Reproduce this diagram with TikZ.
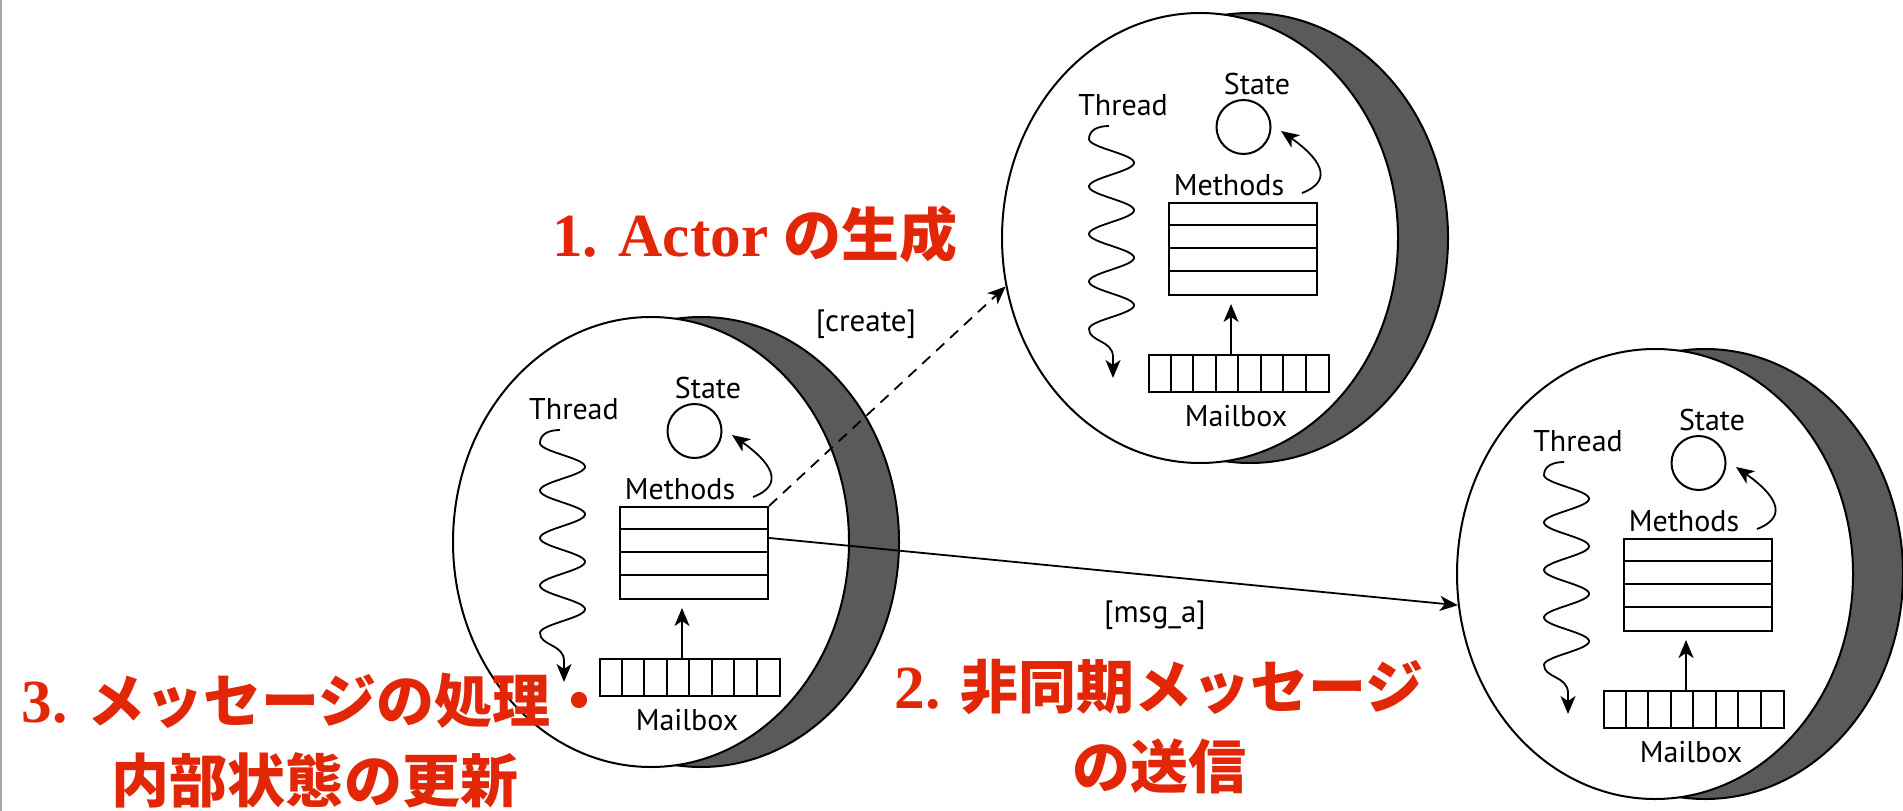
\documentclass[tikz,border=0pt]{standalone}
\usepackage{fontspec}
\setmainfont{Liberation Serif}
\newfontfamily\lblfont{PT Sans}
\newfontfamily\jpfont{Noto Sans CJK JP}
\usetikzlibrary{arrows.meta,calc,shapes.geometric}
\definecolor{jpred}{RGB}{226,38,8}
\definecolor{shade}{RGB}{90,90,90}
\tikzset{
  outl/.style={draw=black, line width=0.8pt},
  lbl/.style={inner sep=0pt, font=\lblfont\fontsize{12pt}{14.4pt}\selectfont},
  arr/.style={line width=0.72pt, -{Stealth[length=7.2pt,width=6pt,inset=2pt]}},
  redtxt/.style={inner sep=0pt, text=jpred, align=center, font=\fontsize{24.5pt}{32pt}\selectfont},
}
\newcommand\jp[1]{{\jpfont\bfseries\fontsize{23.2pt}{32pt}\selectfont #1}}
\newcommand\actorfig[3]{%
\begin{scope}[shift={(#2,#3)}]
  \node[outl, ellipse, fill=shade, minimum width=158.4pt, minimum height=180pt, inner sep=0pt] (#1-shade) at (82,36) {};
  \node[outl, ellipse, fill=white, minimum width=158.4pt, minimum height=180pt, inner sep=0pt] (#1-body) at (32,36) {};
  \node[outl, rectangle, minimum width=59.2pt, minimum height=36.8pt, inner sep=0pt, anchor=north west] (#1-m) at (0,0) {};
  \foreach \k in {1,2,3}
    \draw[line width=0.8pt] ($(#1-m.north west)+(0,\k*23)$) -- ($(#1-m.north east)+(0,\k*23)$);
  \node[lbl] (#1-mt) at (61,-17) {Methods};
  \node[outl, circle, minimum size=21.6pt, inner sep=0pt] (#1-s) at (75.5,-75) {};
  \node[lbl] (#1-st) at (89,-118) {State};
  \node[lbl] (#1-tt) at (-45,-97) {Thread};
  \node[outl, rectangle, minimum width=72pt, minimum height=14.8pt, inner sep=0pt, anchor=north west] (#1-mb) at (-20,152) {};
  \foreach \k in {1,...,7}
    \draw[line width=0.8pt] ($(#1-mb.north west)+(\k*22.5,0)$) -- ($(#1-mb.south west)+(\k*22.5,0)$);
  \node[lbl] (#1-mbt) at (68,214) {Mailbox};
  \draw[arr] ($(#1-mb.north west)+(83,0)$) -- ($(#1-m.south west)+(63,8)$);
  \draw[arr] ($(#1-m.north west)+(134,-9)$) .. controls ($(#1-m.north west)+(168,-22)$) and ($(#1-m.north west)+(150,-45)$) .. ($(#1-s.center)+(37.5,4)$);
  \draw[arr] (-59,-76) .. controls (-70,-76) and (-79,-72) .. (-79,-63)
     -- plot[variable=\t, domain=-63:127, samples=151] ({-56.5-22.5*cos((\t+63)*7.5789)},\t)
     .. controls (-79,140) and (-55,138) .. (-55,155) -- (-55,176);
\end{scope}}
\begin{document}
\begin{tikzpicture}[x=0.4pt,y=-0.4pt]
  \useasboundingbox (0,0) rectangle (1903,811);
  \clip (0,0) rectangle (1903,811);
  \fill[white] (0,0) rectangle (1903,811);
  \fill[black!35] (0,0) rectangle (1.5,811);

  \actorfig{a1}{619}{506}
  \actorfig{a2}{1168}{202}
  \actorfig{a3}{1623}{538}

  \draw[arr, dash pattern=on 4.4pt off 3.2pt] (a1-m.north east) -- (a2-body.194);
  \draw[arr] ($(a1-m.north east)!0.34!(a1-m.south east)$) -- (a3-body.189);
  \node[lbl, font=\lblfont\fontsize{12.4pt}{14.4pt}\selectfont] (create) at (866,324) {[create]};
  \node[lbl, font=\lblfont\fontsize{12.4pt}{14.4pt}\selectfont] (msg) at (1155,615) {[msg\_a]};

  \node[redtxt] (t1) at (755,234) {\textbf{1. Actor} \jp{の生成}};
  \node[redtxt] (t3) at (315,741) {\textbf{3.} \jp{メッセージの処理・}\\\jp{内部状態の更新}};
  \node[redtxt] (t2) at (1159,727) {\textbf{2.} \jp{非同期メッセージ}\\\jp{の送信}};
\end{tikzpicture}
\end{document}
